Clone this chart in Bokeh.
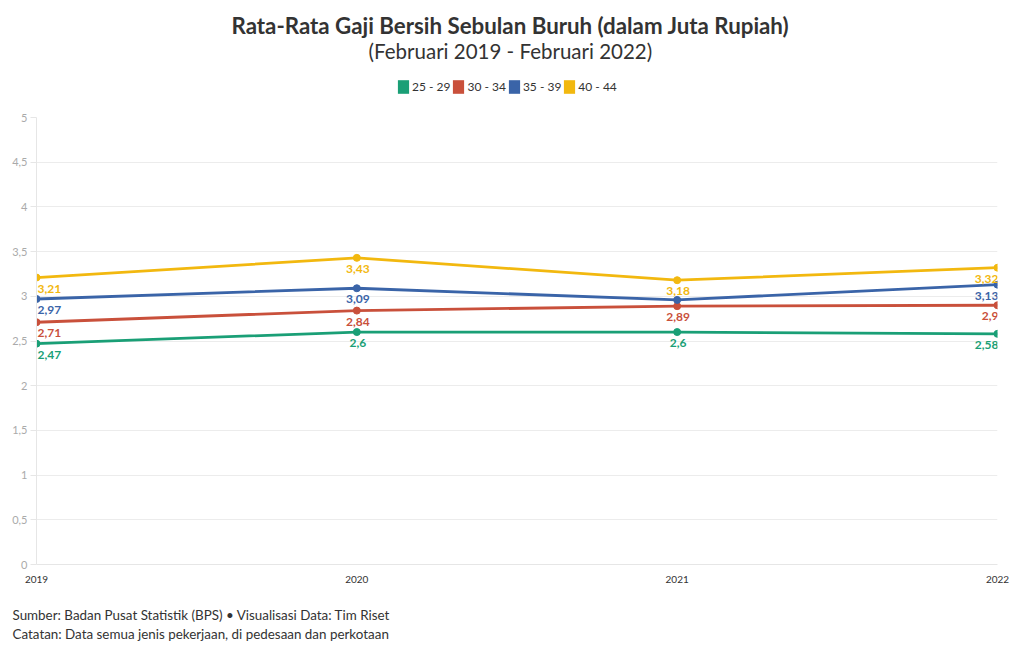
from bokeh.plotting import figure
from bokeh.models import (ColumnDataSource, Legend, LegendItem, FixedTicker, Title,
                          CustomJSTickFormatter, Range1d, Label)
from bokeh.layouts import column
from bokeh.embed import file_html
from bokeh.resources import INLINE
from bokeh.core.properties import value

# ---- data ----
years = [2019, 2020, 2021, 2022]
year_labels = ["2019", "2020", "2021", "2022"]
groups = ["25 - 29", "30 - 34", "35 - 39", "40 - 44"]
wage_25_29 = [2.47, 2.60, 2.60, 2.58]
wage_30_34 = [2.71, 2.84, 2.89, 2.90]
wage_35_39 = [2.97, 3.09, 2.96, 3.13]
wage_40_44 = [3.21, 3.43, 3.18, 3.32]
show_label_25_29 = [True, True, True, True]
show_label_30_34 = [True, True, True, True]
show_label_35_39 = [True, True, False, True]
show_label_40_44 = [True, True, True, True]
y_ticks = [0, 0.5, 1, 1.5, 2, 2.5, 3, 3.5, 4, 4.5, 5]

title_text = "Rata-Rata Gaji Bersih Sebulan Buruh (dalam Juta Rupiah)"
subtitle_text = "(Februari 2019 - Februari 2022)"
note1 = "Sumber: Badan Pusat Statistik (BPS) \u2022 Visualisasi Data: Tim Riset"
note2 = "Catatan: Data semua jenis pekerjaan, di pedesaan dan perkotaan"

series = [wage_25_29, wage_30_34, wage_35_39, wage_40_44]
shows = [show_label_25_29, show_label_30_34, show_label_35_39, show_label_40_44]
colors = ["#1a9f76", "#c9503b", "#3a64a8", "#f2b80f"]

FONT = "Lato"
W = 1020
HEAD_H = 100
FOOT_H = 46
MAIN_H = 650 - HEAD_H - FOOT_H


def blank(h):
    f = figure(width=W, height=h, output_backend="svg", toolbar_location=None,
               x_range=Range1d(0, W), y_range=Range1d(h, 0),
               x_axis_type=None, y_axis_type=None, min_border=0, title_location=None)
    f.outline_line_color = None
    f.background_fill_color = "white"
    f.border_fill_color = "white"
    return f


# ---- header: title, subtitle, legend ----
head = blank(HEAD_H)
head.add_layout(Label(x=W / 2 - 7, y=25, text=title_text, text_align="center",
                      text_baseline="middle", text_font=FONT, text_font_size="22.3px",
                      text_font_style="bold", text_color="#333333"))
head.add_layout(Label(x=W / 2 - 7, y=50, text=subtitle_text, text_align="center",
                      text_baseline="middle", text_font=FONT, text_font_size="20.5px",
                      text_color="#333333"))
legend_items = []
for name, col in zip(groups, colors):
    r = head.rect(x=[float("nan")], y=[float("nan")], width=1, height=1,
                  fill_color=col, line_color=None)
    legend_items.append(LegendItem(label=name, renderers=[r]))
legend = Legend(items=legend_items, orientation="horizontal", location=(360, 5),
                border_line_color=None, background_fill_alpha=0,
                glyph_width=14, glyph_height=17, label_standoff=2, spacing=1,
                padding=0, margin=0, label_height=17,
                label_text_font=FONT, label_text_font_size="12px",
                label_text_color="#333333")
head.add_layout(legend, "center")

# ---- main chart ----
p = figure(width=W, height=MAIN_H, output_backend="svg", toolbar_location=None,
           x_range=Range1d(2019, 2022), y_range=Range1d(0, 5),
           min_border_left=36, min_border_right=23, min_border_top=17,
           min_border_bottom=MAIN_H - 17 - 447, title_location=None)
p.outline_line_color = None
p.background_fill_color = "white"
p.border_fill_color = "white"

p.xgrid.grid_line_color = None
p.ygrid.grid_line_color = "#ececec"
p.ygrid.ticker = FixedTicker(ticks=y_ticks)
p.yaxis.ticker = FixedTicker(ticks=y_ticks)
p.yaxis.formatter = CustomJSTickFormatter(code="return tick.toString().replace('.', ',');")
p.yaxis.axis_line_color = "#e6e6e6"
p.yaxis.major_tick_line_color = "#e6e6e6"
p.yaxis.major_tick_out = 6
p.yaxis.major_tick_in = 0
p.yaxis.minor_tick_line_color = None
p.yaxis.major_label_standoff = 3
p.yaxis.major_label_text_color = "#aaaaaa"
p.yaxis.major_label_text_font = FONT
p.yaxis.major_label_text_font_size = "11px"

p.xaxis.ticker = FixedTicker(ticks=years)
p.xaxis.major_label_overrides = {y: s for y, s in zip(years, year_labels)}
p.xaxis.axis_line_color = "#e6e6e6"
p.xaxis.major_tick_line_color = None
p.xaxis.minor_tick_line_color = None
p.xaxis.major_label_standoff = 5
p.xaxis.major_label_text_color = "#333333"
p.xaxis.major_label_text_font = FONT
p.xaxis.major_label_text_font_size = "10px"

for name, vals, show, col in zip(groups, series, shows, colors):
    p.line(years, vals, line_color=col, line_width=2.8)
    p.scatter(years, vals, size=7, fill_color=col, line_color=col)
    xs = [y for y, s in zip(years, show) if s]
    ys = [v for v, s in zip(vals, show) if s]
    txt = [("%g" % v).replace(".", ",") for v, s in zip(vals, show) if s]
    al = ["left" if y == years[0] else ("right" if y == years[-1] else "center") for y in xs]
    src = ColumnDataSource(dict(x=xs, y=ys, t=txt, a=al))
    p.text(x="x", y="y", text="t", source=src, text_align="a", text_baseline="middle",
           y_offset=11, x_offset=1, text_color=col, text_font=value(FONT),
           text_font_style="bold", text_font_size="12px")

# ---- footer: source notes (titles stacked above a tiny frame) ----
foot = blank(FOOT_H)
for note in [note2, note1]:
    foot.add_layout(Title(text=note, align="left", offset=-24, standoff=1,
                          text_font=FONT, text_font_size="13.4px",
                          text_font_style="normal", text_color="#333333"), "above")

layout = column(head, p, foot, spacing=0)
open("out.html", "w").write(file_html(layout, INLINE))
